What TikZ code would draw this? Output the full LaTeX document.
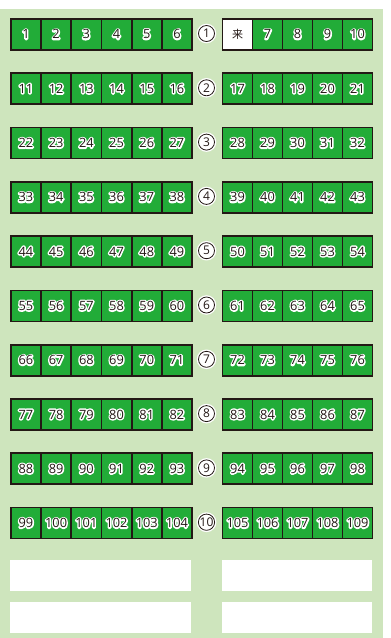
\documentclass[tikz,border=0pt]{standalone}
\usepackage{fontspec}
\setmainfont{Open Sans}
\newfontfamily\cjk{Noto Sans CJK JP}
\newcommand{\halo}[1]{\makebox[0pt][l]{\special{pdf:literal direct q 2 Tr 3.0 w 1 j}\textcolor{white}{#1}\special{pdf:literal direct Q}}#1}
\definecolor{bg}{HTML}{CEE5BD}
\definecolor{boxgreen}{HTML}{22AC38}
\definecolor{ink}{HTML}{231815}
\begin{document}
\begin{tikzpicture}[x=1pt,y=-1pt,
  cell/.style={draw=ink, line width=1.7pt, fill=boxgreen, minimum width=30.2pt,
    minimum height=31pt, inner sep=0pt, anchor=north west,
    font=\fontsize{12.8}{12.8}\selectfont, text=ink},
  rcell/.style={cell, minimum width=30pt},
  kcell/.style={rcell, fill=white, font=\cjk\fontsize{11}{11}\selectfont},
  circnum/.style={circle, draw=ink, line width=0.8pt, fill=white, minimum size=16pt,
    inner sep=0pt, font=\fontsize{12}{12}\selectfont, text=ink,
    preaction={draw=white, line width=3.5pt}},
  bar/.style={fill=white, inner sep=0pt, anchor=north west, minimum height=31pt}]
\useasboundingbox (0,0) rectangle (391,638);
\fill[white] (0,0) rectangle (391,638);
\fill[bg] (0,9) rectangle (383,638);
% row 1
\foreach \i in {1,...,6} {
  \node[cell] (b\i) at ({10+30.2*(\i-1)}, 18) {\halo{\i}};
}
\node[circnum] (c1) at (206.5, 33.5) {1};
\node[kcell] (k) at (221.7, 18) {来};
\foreach \j in {2,...,5} {
  \pgfmathtruncatemacro{\n}{5+\j}
  \node[rcell] (b\n) at ({221.7+30*(\j-1)}, 18) {\halo{\n}};
}
% rows 2..10
\foreach \r in {1,...,9} {
  \foreach \i in {1,...,6} {
    \pgfmathtruncatemacro{\n}{11*\r+\i-1}
    \node[cell] (b\n) at ({10+30.2*(\i-1)}, {18+54.3*\r}) {\halo{\n}};
  }
  \pgfmathtruncatemacro{\c}{\r+1}
  \node[circnum] (c\c) at (206.5, {33.5+54.3*\r}) {\c};
  \foreach \j in {1,...,5} {
    \pgfmathtruncatemacro{\n}{11*\r+5+\j}
    \node[rcell] (b\n) at ({221.7+30*(\j-1)}, {18+54.3*\r}) {\halo{\n}};
  }
}
% blank bars
\node[bar, minimum width=181pt] (l1) at (10, 560) {};
\node[bar, minimum width=181pt] (l2) at (10, 602) {};
\node[bar, minimum width=150pt] (r1) at (221.7, 560) {};
\node[bar, minimum width=150pt] (r2) at (221.7, 602) {};
\end{tikzpicture}
\end{document}
